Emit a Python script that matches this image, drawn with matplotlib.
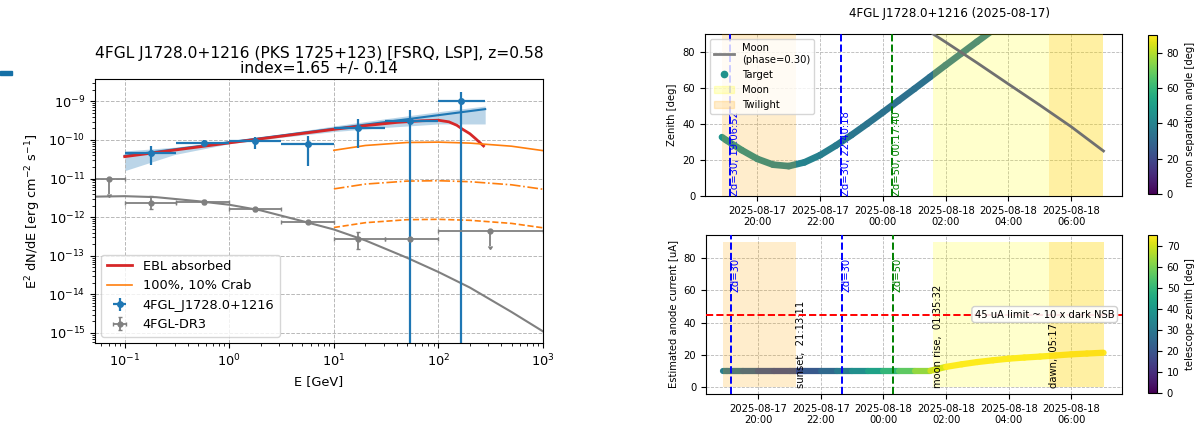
import numpy as np
import matplotlib
matplotlib.use('Agg')
from matplotlib import pyplot as plt
import matplotlib.dates as mdates
import matplotlib.ticker as mticker
import matplotlib.transforms as mtrans
from matplotlib.collections import LineCollection
from matplotlib.lines import Line2D
from matplotlib.patches import Patch, Rectangle
from matplotlib.colors import Normalize
from matplotlib.cm import ScalarMappable
from datetime import datetime, timedelta

# ---------------- SED data (left) ----------------
E_fp = [0.18, 0.57, 1.76, 5.6, 17, 54, 165]
E_fp_lo = [0.1, 0.31, 1.0, 3.1, 10, 31, 98]
E_fp_hi = [0.31, 1.0, 3.1, 10, 31, 98, 280]
F_fp = [4.7e-11, 8.5e-11, 9.3e-11, 7.8e-11, 2.1e-10, 3.1e-10, 1.0e-9]
F_fp_lo = [2.2e-11, 7.2e-11, 5.8e-11, 2.1e-11, 6.3e-11, 1e-30, 1e-30]
F_fp_hi = [7.0e-11, 1.0e-10, 1.2e-10, 1.3e-10, 3.6e-10, 6.0e-10, 1.8e-9]

E_pl = [0.1, 280]
F_pl = [3.9e-11, 6.3e-10]
E_band = [0.1, 0.3, 1, 3, 10, 30, 100, 280]
band_lo = [1.6e-11, 4.2e-11, 8.0e-11, 1.15e-10, 1.65e-10, 2.1e-10, 2.6e-10, 2.6e-10]
band_hi = [5.2e-11, 6.5e-11, 9.5e-11, 1.4e-10, 2.3e-10, 3.5e-10, 5.4e-10, 7.6e-10]

E_ebl = [0.1, 1, 10, 20, 40, 70, 100, 126, 150, 170, 200, 225, 270]
F_ebl = [3.7e-11, 8.4e-11, 1.88e-10, 2.35e-10, 2.85e-10, 3.15e-10, 3.25e-10, 2.95e-10,
         2.4e-10, 1.9e-10, 1.45e-10, 1.1e-10, 7.0e-11]

E_crab = [10, 20, 50, 100, 200, 500, 1000]
F_crab = [5.4e-11, 7.2e-11, 8.6e-11, 8.8e-11, 8.3e-11, 6.9e-11, 5.3e-11]
crab_frac = [1.0, 0.1, 0.01]
crab_ls = ['-', '-.', '--']

E_dr3 = [0.071, 0.18, 0.57, 1.76, 5.6, 17, 54, 310]
E_dr3_lo = [0.05, 0.1, 0.31, 1.0, 3.1, 10, 31, 100]
E_dr3_hi = [0.1, 0.31, 1.0, 3.1, 10, 31, 100, 1000]
F_dr3 = [1.0e-11, 2.4e-12, 2.5e-12, 1.6e-12, 7.5e-13, 2.7e-13, 2.7e-13, 4.5e-13]
F_dr3_lo = [4.0e-12, 1.6e-12, 2.25e-12, 1.45e-12, 6.9e-13, 1.5e-13, 2.5e-13, 1.8e-13]
F_dr3_hi = [1.0e-11, 3.6e-12, 2.8e-12, 1.75e-12, 8.2e-13, 4.1e-13, 2.9e-13, 4.5e-13]
dr3_ul = [True, False, False, False, False, False, False, True]

E_lp = [0.05, 0.1, 0.2, 0.5, 1, 2, 5, 10, 20, 50, 100, 200, 500, 1000]
F_lp = [3.4e-12, 3.5e-12, 3.3e-12, 2.6e-12, 2.1e-12, 1.5e-12, 7.9e-13, 4.8e-13,
        2.5e-13, 8.9e-14, 3.8e-14, 1.5e-14, 3.5e-15, 1.1e-15]

# ---------------- visibility data (right), hours from 2025-08-17 00:00 ----------------
t_target = [18.87, 19.0, 19.5, 20.0, 20.5, 21.0, 21.5, 22.0, 22.5, 23.0, 23.5, 24.0, 24.5,
            25.0, 25.5, 26.0, 26.5, 27.0, 27.5, 28.0, 28.5, 29.0, 29.5, 30.0, 30.5, 31.03]
zenith = [32.7, 31.1, 25.5, 20.6, 17.4, 16.6, 18.7, 22.7, 28.0, 33.9, 40.1, 46.5, 53.0,
          59.5, 66.1, 72.7, 79.2, 85.7, 92.1, 98.3, 104.5, 110.4, 116.1, 121.5, 126.4, 131.0]
moon_sep = [47, 46.5, 45, 43.5, 42, 41, 40, 39, 37.5, 36, 35, 34, 33.5,
            33, 33.5, 34, 34.5, 35, 35.5, 36, 36.5, 37, 37.5, 38, 38.5, 39]
current = [10, 10, 10, 10, 10, 10, 10, 10, 10, 10, 10, 10, 10,
           10, 10, 12.4, 14.0, 15.4, 16.5, 17.5, 18.2, 18.8, 19.5, 20.2, 20.7, 21.2]

t_moon = [25.33, 25.6, 26.0, 27.0, 28.0, 29.0, 30.0, 31.03]
moon_zen = [93.5, 90.0, 85.5, 74.0, 62.2, 50.5, 38.5, 25.0]

zd_t = [19.1144, 22.6717, 24.2944]
zd_val = [30, 30, 50]
zd_clock = ['19:06:52', '22:40:18', '00:17:40']
zd_col = ['blue', 'blue', 'green']

twilight = [(18.87, 21.2197), (29.2833, 31.03)]
moon_up = [(25.5922, 31.03)]
events_t = [21.2197, 25.5922, 29.2833]
events_txt = ['sunset,  21:13:11', 'moon rise,  01:35:32', 'dawn,  05:17']

base = datetime(2025, 8, 17)


def to_dt(hours):
    return [base + timedelta(hours=h) for h in hours]


def track(ax, t, y, c, norm, lw):
    x = mdates.date2num(to_dt(t))
    pts = np.column_stack([x, y])
    segs = np.stack([pts[:-1], pts[1:]], axis=1)
    lc = LineCollection(segs, cmap='viridis', norm=norm, linewidths=lw,
                        capstyle='round', zorder=2)
    c = np.array(c, dtype=float)
    lc.set_array((c[:-1] + c[1:]) / 2)
    ax.add_collection(lc)


W, H = 1201, 425
fig = plt.figure(figsize=(W / 100, H / 100), dpi=100)


def box(x0, y0, x1, y1):
    return [x0 / W, 1 - y1 / H, (x1 - x0) / W, (y1 - y0) / H]


# slide decoration
fig.patches.append(Rectangle((0, 1 - 75 / H), 12 / W, 4 / H, transform=fig.transFigure,
                             color='#1570a6', zorder=0))

# ================= left: SED =================
ax = fig.add_axes(box(95, 79, 543, 343))
ax.set_xscale('log')
ax.set_yscale('log')
ax.set_xlim(0.052, 1000)
ax.set_ylim(5.5e-16, 3.8e-9)

ax.fill_between(E_band, band_lo, band_hi, color='C0', alpha=0.3, lw=0)
ax.plot(E_pl, F_pl, color='C0', lw=1.5)
ax.plot(E_ebl, F_ebl, color='C3', lw=2, label='EBL absorbed')
for frac, ls in zip(crab_frac, crab_ls):
    ax.plot(E_crab, np.array(F_crab) * frac, color='C1', ls=ls, lw=1.2,
            label='100%, 10% Crab' if frac == 1.0 else None)
ax.plot(E_lp, F_lp, color='gray', lw=1.5)

E = np.array(E_fp)
F = np.array(F_fp)
ax.errorbar(E, F, xerr=[E - np.array(E_fp_lo), np.array(E_fp_hi) - E],
            yerr=[F - np.array(F_fp_lo), np.array(F_fp_hi) - F],
            fmt='o', color='C0', ms=4, lw=1.6, label='4FGL_J1728.0+1216')

E = np.array(E_dr3)
F = np.array(F_dr3)
ul = np.array(dr3_ul)
yerr_hi = np.where(ul, 0, np.array(F_dr3_hi) - F)
ax.errorbar(E, F, xerr=[E - np.array(E_dr3_lo), np.array(E_dr3_hi) - E],
            yerr=[F - np.array(F_dr3_lo), yerr_hi], uplims=ul,
            fmt='o', color='gray', ms=3.5, lw=1.3, capsize=1.5, label='4FGL-DR3')

ax.yaxis.set_major_locator(mticker.LogLocator(base=10, numticks=15))
ax.yaxis.set_minor_locator(mticker.LogLocator(base=10, subs=np.arange(2, 10), numticks=15))
ax.yaxis.set_minor_formatter(mticker.NullFormatter())
ax.grid(True, which='major', ls='--', lw=0.7, color='#b8b8b8')
ax.tick_params(labelsize=9.3)
ax.set_xlabel('E [GeV]', fontsize=9.3)
ax.set_ylabel(r'E$^2$ dN/dE [erg cm$^{-2}$ s$^{-1}$]', fontsize=9.3)
ax.set_title('4FGL J1728.0+1216 (PKS 1725+123) [FSRQ, LSP], z=0.58\nindex=1.65 +/- 0.14',
             fontsize=11.2, pad=4, linespacing=1.0)
ax.legend(loc='lower left', fontsize=9.3)

# ================= right: visibility =================
fs = 7.2
tick_fmt = mdates.DateFormatter('%Y-%m-%d\n%H:%M')
xl = mdates.date2num(to_dt([18.33, 31.62]))

ax1 = fig.add_axes(box(705, 34, 1122, 196))
ax2 = fig.add_axes(box(706, 235, 1122, 394))
cax1 = fig.add_axes(box(1148, 35, 1157, 194))
cax2 = fig.add_axes(box(1148, 235, 1157, 393))

norm1 = Normalize(0, 90)
norm2 = Normalize(0, 75)

# top panel: zenith
track(ax1, t_target, zenith, moon_sep, norm1, 4.8)
ax1.plot(to_dt(t_moon), moon_zen, color='#707070', lw=2, zorder=4)
for a, b in twilight:
    ax1.fill_between(to_dt([a, b]), 0, 90, color='orange', alpha=0.2, lw=0, zorder=3)
for a, b in moon_up:
    ax1.fill_between(to_dt([a, b]), 0, 90, color='yellow', alpha=0.2, lw=0, zorder=3)
for t, v, clk, c in zip(zd_t, zd_val, zd_clock, zd_col):
    ax1.axvline(to_dt([t])[0], color=c, ls='--', lw=1.4, zorder=4)
    ax1.text(to_dt([t])[0], 0, f'Zd={v}, {clk}', rotation=90, color=c,
             ha='left', va='bottom', fontsize=fs, zorder=4)
ax1.set_ylim(0, 90)
ax1.set_ylabel('Zenith [deg]', fontsize=fs)
handles = [Line2D([], [], color='gray', lw=2),
           Line2D([], [], ls='', marker='o', ms=4.5, color=plt.cm.viridis(norm1(46))),
           Patch(color='yellow', alpha=0.2),
           Patch(color='orange', alpha=0.2)]
ax1.legend(handles, ['Moon\n(phase=0.30)', 'Target', 'Moon', 'Twilight'],
           loc='upper left', fontsize=fs)

# bottom panel: anode current
track(ax2, t_target, current, zenith, norm2, 4.5)
for a, b in twilight:
    ax2.fill_between(to_dt([a, b]), 0, 90, color='orange', alpha=0.2, lw=0, zorder=3)
for a, b in moon_up:
    ax2.fill_between(to_dt([a, b]), 0, 90, color='yellow', alpha=0.2, lw=0, zorder=3)
for t, v, c in zip(zd_t, zd_val, zd_col):
    ax2.axvline(to_dt([t])[0], color=c, ls='--', lw=1.4, zorder=4)
    ax2.text(to_dt([t])[0], 59, f'Zd={v}', rotation=90, color=c,
             ha='left', va='bottom', fontsize=fs, zorder=4)
for t, s in zip(events_t, events_txt):
    ax2.text(to_dt([t])[0], -1, s, rotation=90, ha='left', va='bottom', fontsize=fs, zorder=4)
ax2.axhline(45, color='red', ls='--', lw=1.4, zorder=4)
ax2.text(0.982, 45, '45 uA limit ~ 10 x dark NSB', fontsize=fs, ha='right', va='center',
         transform=mtrans.blended_transform_factory(ax2.transAxes, ax2.transData),
         bbox=dict(boxstyle='round', fc='white', ec='#cccccc', alpha=0.9), zorder=5)
ax2.set_ylim(-4.5, 94.5)
ax2.set_ylabel('Estimated anode current [uA]', fontsize=fs)

for a in (ax1, ax2):
    a.set_xlim(*xl)
    a.xaxis.set_major_locator(mdates.HourLocator(byhour=range(0, 24, 2)))
    a.xaxis.set_major_formatter(tick_fmt)
    a.set_yticks([0, 20, 40, 60, 80])
    a.tick_params(labelsize=fs)
    a.grid(True, ls='--', lw=0.6, color='#b8b8b8')
    a.set_axisbelow(True)

cb1 = fig.colorbar(ScalarMappable(norm1, 'viridis'), cax=cax1)
cb1.set_ticks([0, 20, 40, 60, 80])
cb1.set_label('moon separation angle [deg]', fontsize=fs)
cb2 = fig.colorbar(ScalarMappable(norm2, 'viridis'), cax=cax2)
cb2.set_ticks(range(0, 71, 10))
cb2.set_label('telescope zenith [deg]', fontsize=fs)
for cb in (cb1, cb2):
    cb.ax.tick_params(labelsize=fs)

fig.text(949 / W, 1 - 14 / H, '4FGL J1728.0+1216 (2025-08-17)', fontsize=8.6,
         ha='center', va='center')

fig.savefig('out.png', dpi=100)
